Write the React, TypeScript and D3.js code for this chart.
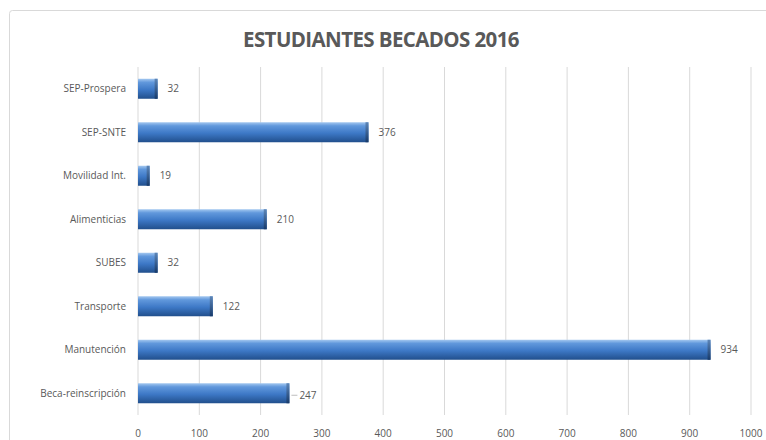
import React from "react";
import * as d3 from "d3";

const categories = ["SEP-Prospera", "SEP-SNTE", "Movilidad Int.", "Alimenticias", "SUBES", "Transporte", "Manutención", "Beca-reinscripción"];
const values = [32, 376, 19, 210, 32, 122, 934, 247];
const ticks = [0, 100, 200, 300, 400, 500, 600, 700, 800, 900, 1000];
const title = "ESTUDIANTES BECADOS 2016";

const W = 766, H = 440;
const plotL = 138, plotR = 751, plotT = 67, plotB = 415;

export default function App() {
  const x = d3.scaleLinear().domain([0, 1000]).range([plotL, plotR]);
  const y = d3.scaleBand<string>().domain(categories).range([plotT, plotB]).paddingInner(0.54).paddingOuter(0.27);
  const bh = y.bandwidth();
  const font = "'Open Sans', 'Noto Sans', sans-serif";
  return (
    <svg width={W} height={H} style={{ position: "absolute", left: 0, top: 0, background: "#fff" }}>
      <defs>
        <linearGradient id="barG" x1="0" y1="0" x2="0" y2="1">
          <stop offset="0" stopColor="#a4c8f0" />
          <stop offset="0.18" stopColor="#6198dc" />
          <stop offset="0.55" stopColor="#3d78c6" />
          <stop offset="1" stopColor="#214f8c" />
        </linearGradient>
        <linearGradient id="capG" x1="0" y1="0" x2="0" y2="1">
          <stop offset="0" stopColor="#5d86b8" />
          <stop offset="1" stopColor="#173a6a" />
        </linearGradient>
      </defs>
      <rect x={9.5} y={10.5} width={W + 10} height={H + 10} fill="none" stroke="#d9d9d9" rx={3} />
      <text x={381} y={47} textAnchor="middle" fontFamily={font} fontWeight="bold" fontSize={20.5} fill="#595959" letterSpacing={-0.6}>{title}</text>
      {ticks.map((t) => (
        <g key={t}>
          <line x1={x(t)} x2={x(t)} y1={plotT} y2={plotB} stroke="#d9d9d9" strokeWidth={1} />
          <text x={x(t)} y={437} textAnchor="middle" fontFamily={font} fontSize={10} fill="#595959">{t}</text>
        </g>
      ))}
      {categories.map((c, i) => {
        const y0 = y(c)!;
        const xe = x(values[i]);
        return (
          <g key={c}>
            <text x={126} y={y0 + bh / 2 + 3.5} textAnchor="end" fontFamily={font} fontSize={10} fill="#595959">{c}</text>
            <rect x={x(0)} y={y0} width={xe - x(0)} height={bh} fill="url(#barG)" />
            <rect x={xe - 3} y={y0} width={3} height={bh} fill="url(#capG)" />
            {values[i] === 247 && <line x1={xe + 2} x2={xe + 8} y1={y0 + bh / 2 + 2} y2={y0 + bh / 2 + 2} stroke="#bfbfbf" />}
            <text x={xe + 10} y={y0 + bh / 2 + (values[i] === 247 ? 6 : 3.5)} fontFamily={font} fontSize={10} fill="#595959">{values[i]}</text>
          </g>
        );
      })}
    </svg>
  );
}
